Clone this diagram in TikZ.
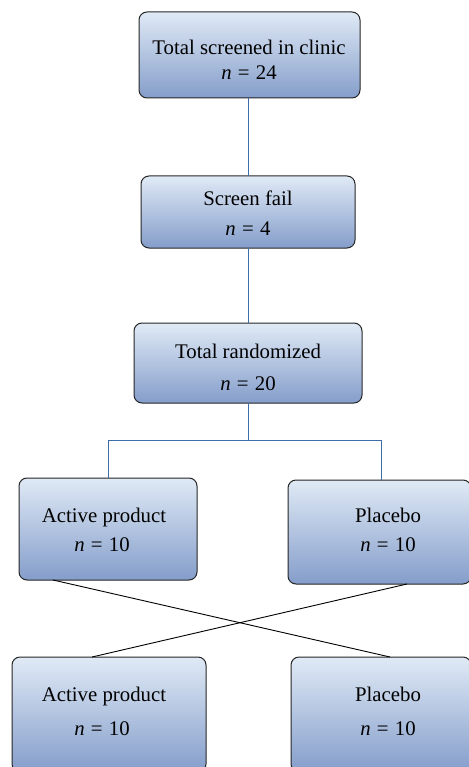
\documentclass[tikz,border=0pt]{standalone}
\usepackage{fontspec}
\setmainfont{Liberation Serif}
\begin{document}
\begin{tikzpicture}[x=1pt,y=-1pt,
  box/.style={draw=black!85,line width=1pt,rounded corners=8pt,top color=boxtop,bottom color=boxbot},
  txt/.style={font=\fontsize{20.8}{26}\selectfont,anchor=base,inner sep=0pt},
  blink/.style={draw=linkblue,line width=0.9pt},
  klink/.style={draw=black,line width=0.9pt}]
\definecolor{boxtop}{HTML}{E0EAF6}
\definecolor{boxbot}{HTML}{849DCA}
\definecolor{linkblue}{HTML}{3E6DAA}
\useasboundingbox (0,0) rectangle (468,767);
% boxes
\draw[box] (139,12) rectangle (360,98);
\draw[box] (141,176) rectangle (355,248);
\draw[box] (134,323) rectangle (362,403);
\draw[box] (19,478) rectangle (197,580);
\draw[box] (288,480) rectangle (471,584);
\draw[box] (12,657) rectangle (206,772);
\draw[box] (291,657) rectangle (471,772);
% texts
\newcommand{\nn}[1]{\textit{n}\hspace{0.3em}=\hspace{0.3em}#1}
\node[txt] (t1a) at (249,55) {Total screened in clinic};
\node[txt] (t1b) at (249,80) {\nn{24}};
\node[txt] (t2a) at (248,205) {Screen fail};
\node[txt] (t2b) at (248,235) {\nn{4}};
\node[txt] (t3a) at (248,358) {Total randomized};
\node[txt] (t3b) at (248,390) {\nn{20}};
\node[txt] (t4a) at (104,522) {Active product};
\node[txt] (t4b) at (102,551) {\nn{10}};
\node[txt] (t5a) at (388,522) {Placebo};
\node[txt] (t5b) at (388,551) {\nn{10}};
\node[txt] (t6a) at (104,701) {Active product};
\node[txt] (t6b) at (102,735) {\nn{10}};
\node[txt] (t7a) at (388,701) {Placebo};
\node[txt] (t7b) at (388,735) {\nn{10}};
% connectors
\coordinate (b1b) at (248.5,98);
\coordinate (b2t) at (248.5,176);
\coordinate (b2b) at (248.5,248);
\coordinate (b3t) at (248.5,323);
\coordinate (b3b) at (248.5,403);
\coordinate (j) at (248.5,440.5);
\coordinate (jl) at (108.5,440.5);
\coordinate (jr) at (381.5,440.5);
\coordinate (b4t) at (108.5,478);
\coordinate (b5t) at (381.5,480);
\coordinate (b4b) at (53,580);
\coordinate (b5b) at (407,584);
\coordinate (b6t) at (92,657);
\coordinate (b7t) at (390,657);
\draw[blink] (b1b) -- (b2t);
\draw[blink] (b2b) -- (b3t);
\draw[blink] (b3b) -- (j);
\draw[blink] (b4t) -- (jl) -- (jr) -- (b5t);
\draw[klink] (b4b) -- (b7t);
\draw[klink] (b5b) -- (b6t);
\end{tikzpicture}
\end{document}
